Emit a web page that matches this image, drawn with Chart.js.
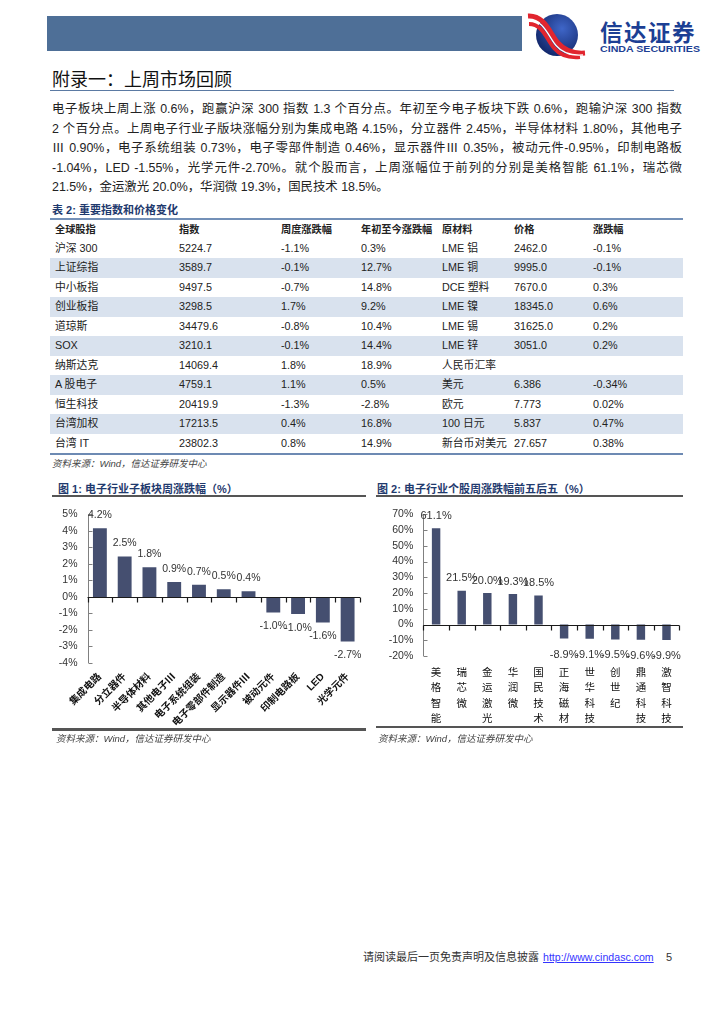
<!DOCTYPE html>
<html><head><meta charset="utf-8">
<script src="https://cdn.jsdelivr.net/npm/chart.js@4.4.1/dist/chart.umd.min.js"></script>
<style>
html,body{margin:0;padding:0;background:#fff;}
body{width:724px;height:1024px;position:relative;overflow:hidden;font-family:"Liberation Sans","Noto Sans CJK SC",sans-serif;color:#222;}
.abs{position:absolute;}
.pl{position:absolute;left:52px;width:630px;font-size:12.4px;line-height:16px;height:16px;text-align:justify;text-align-last:justify;color:#222;white-space:nowrap;}
.pl.last{text-align-last:left;}
.ttl{position:absolute;font-size:11px;font-weight:bold;color:#1f3a6e;line-height:14px;white-space:nowrap;}
.src{position:absolute;font-size:9.5px;font-style:italic;color:#444;line-height:12px;white-space:nowrap;}
.row{position:absolute;left:50px;width:633px;height:19.5px;}
.cell{position:absolute;top:0;line-height:19.5px;font-size:10.8px;color:#222;white-space:nowrap;}
.hcell{position:absolute;top:0;line-height:19px;font-size:10.2px;font-weight:bold;color:#222;white-space:nowrap;}
</style>
</head><body>

<div class="abs" style="left:47px;top:16px;width:475px;height:35px;background:#4e6f97;"></div>
<svg class="abs" style="left:524px;top:8px" width="190" height="56" viewBox="524 8 190 56">
 <defs>
  <radialGradient id="lg" cx="0.62" cy="0.35" r="0.75">
   <stop offset="0" stop-color="#3f66c8"/><stop offset="1" stop-color="#0e2263"/>
  </radialGradient>
 </defs>
 <circle cx="557" cy="35" r="21" fill="url(#lg)"/>
 <path d="M528 16 C545 15 550 34 558 43 C564 50 572 54 585 53" stroke="#e1252e" stroke-width="5" fill="none"/>
 <path d="M529 24 C543 24 547 40 554 48 C559 54 568 58 580 57" stroke="#e1252e" stroke-width="4" fill="none"/>
 <path d="M528.5 20 C544 19.5 548.5 37 556 45.5 C561.5 52 570 56 583 55" stroke="#ffffff" stroke-width="1.3" fill="none"/>
 <text x="600" y="41" font-size="22.5" font-weight="bold" fill="#1c3f94" font-family="Noto Sans CJK SC" letter-spacing="1.5">信达证券</text>
 <text x="600" y="51.5" font-size="9.6" font-weight="bold" fill="#1c3f94" font-family="Liberation Sans" textLength="100" lengthAdjust="spacingAndGlyphs">CINDA SECURITIES</text>
</svg>

<div class="abs" style="left:52px;top:66px;font-size:18px;line-height:24px;color:#111;font-family:'Noto Sans CJK SC';">附录一：上周市场回顾</div>
<div class="abs" style="left:50px;top:90px;width:624px;height:1.3px;background:#5b7aa3;"></div>

<div class="pl" style="top:101px">电子板块上周上涨 0.6%，跑赢沪深 300 指数 1.3 个百分点。年初至今电子板块下跌 0.6%，跑输沪深 300 指数</div>
<div class="pl" style="top:120.5px">2 个百分点。上周电子行业子版块涨幅分别为集成电路 4.15%，分立器件 2.45%，半导体材料 1.80%，其他电子</div>
<div class="pl" style="top:140px">Ⅲ 0.90%，电子系统组装 0.73%，电子零部件制造 0.46%，显示器件Ⅲ 0.35%，被动元件-0.95%，印制电路板</div>
<div class="pl" style="top:159.5px">-1.04%，LED -1.55%，光学元件-2.70%。就个股而言，上周涨幅位于前列的分别是美格智能 61.1%，瑞芯微</div>
<div class="pl last" style="top:179px">21.5%，金运激光 20.0%，华润微 19.3%，国民技术 18.5%。</div>

<div class="ttl" style="left:52px;top:203px;">表 2: 重要指数和价格变化</div>
<div class="abs" style="left:50px;top:218px;width:633px;height:2px;background:#7390b8;"></div>
<div id="tbl"></div>
<div class="abs" style="left:50px;top:452.5px;width:633px;height:2px;background:#6d8ab3;"></div>
<div class="src" style="left:52px;top:458px;">资料来源：Wind，信达证券研发中心</div>

<div class="ttl" style="left:58px;top:482px;">图 1: 电子行业子板块周涨跌幅（%）</div>
<div class="abs" style="left:52px;top:495px;width:314px;height:2px;background:#555;"></div>
<div class="abs" style="left:40px;top:498px;width:326px;height:232px;"><canvas id="c1"></canvas></div>
<div class="abs" style="left:52px;top:728px;width:314px;height:2.5px;background:#555;"></div>
<div class="src" style="left:56px;top:733px;">资料来源：Wind，信达证券研发中心</div>

<div class="ttl" style="left:377px;top:482px;">图 2: 电子行业个股周涨跌幅前五后五（%）</div>
<div class="abs" style="left:376px;top:495px;width:307px;height:2px;background:#555;"></div>
<div class="abs" style="left:370px;top:498px;width:315px;height:232px;"><canvas id="c2"></canvas></div>
<div class="abs" style="left:376px;top:725.5px;width:307px;height:2.5px;background:#555;"></div>
<div class="src" style="left:378px;top:733px;">资料来源：Wind，信达证券研发中心</div>

<div class="abs" style="left:363px;top:950px;font-size:11px;line-height:14px;color:#333;white-space:nowrap;">请阅读最后一页免责声明及信息披露</div>
<div class="abs" style="left:543px;top:950px;font-size:10.6px;line-height:14px;color:#3434ff;text-decoration:underline;white-space:nowrap;">http://www.cindasc.com</div>
<div class="abs" style="left:666px;top:950px;font-size:11px;line-height:14px;color:#333;">5</div>

<script>
// ---------- Table data ----------
const tableHeaders = ['全球股指','指数','周度涨跌幅','年初至今涨跌幅','原材料','价格','涨跌幅'];
const indexNames = ['沪深 300','上证综指','中小板指','创业板指','道琼斯','SOX','纳斯达克','A 股电子','恒生科技','台湾加权','台湾 IT'];
const indexValues = ['5224.7','3589.7','9497.5','3298.5','34479.6','3210.1','14069.4','4759.1','20419.9','17213.5','23802.3'];
const weekChg = ['-1.1%','-0.1%','-0.7%','1.7%','-0.8%','-0.1%','1.8%','1.1%','-1.3%','0.4%','0.8%'];
const ytdChg = ['0.3%','12.7%','14.8%','9.2%','10.4%','14.4%','18.9%','0.5%','-2.8%','16.8%','14.9%'];
const materials = ['LME 铝','LME 铜','DCE 塑料','LME 镍','LME 锡','LME 锌','人民币汇率','美元','欧元','100 日元','新台币对美元'];
const prices = ['2462.0','9995.0','7670.0','18345.0','31625.0','3051.0','','6.386','7.773','5.837','27.657'];
const priceChg = ['-0.1%','-0.1%','0.3%','0.6%','0.2%','0.2%','','-0.34%','0.02%','0.47%','0.38%'];

// ---------- Chart 1 data ----------
const sectorNames = ['集成电路','分立器件','半导体材料','其他电子Ⅲ','电子系统组装','电子零部件制造','显示器件Ⅲ','被动元件','印制电路板','LED','光学元件'];
const sectorChg = [4.15, 2.45, 1.80, 0.90, 0.73, 0.46, 0.35, -0.95, -1.04, -1.55, -2.70];
const sectorLabels = ['4.2%','2.5%','1.8%','0.9%','0.7%','0.5%','0.4%','-1.0%','-1.0%','-1.6%','-2.7%'];
const sectorTicks = {min:-4, max:5, step:1};

// ---------- Chart 2 data ----------
const stockNames = [['美','格','智','能'],['瑞','芯','微'],['金','运','激','光'],['华','润','微'],['国','民','技','术'],['正','海','磁','材'],['世','华','科','技'],['创','世','纪'],['鼎','通','科','技'],['激','智','科','技']];
const stockChg = [61.1, 21.5, 20.0, 19.3, 18.5, -8.9, -9.1, -9.5, -9.6, -9.9];
const stockLabels = ['61.1%','21.5%','20.0%','19.3%','18.5%','-8.9%','-9.1%','-9.5%','-9.6%','-9.9%'];
const stockTicks = {min:-20, max:70, step:10};

// ---------- Build table ----------
(function(){
  const tbl = document.getElementById('tbl');
  const colX = [5,129,231,311,392,464,543];
  const hdr = document.createElement('div');
  hdr.className='row'; hdr.style.top='220px'; hdr.style.height='19px';
  tableHeaders.forEach((h,i)=>{const c=document.createElement('div');c.className='hcell';c.style.left=colX[i]+'px';c.textContent=h;hdr.appendChild(c);});
  tbl.appendChild(hdr);
  const cols=[indexNames,indexValues,weekChg,ytdChg,materials,prices,priceChg];
  for(let r=0;r<indexNames.length;r++){
    const row=document.createElement('div');
    row.className='row';
    row.style.top=(238.5+19.5*r)+'px';
    if(r%2===1) row.style.background='#d9e2ee';
    cols.forEach((col,i)=>{const c=document.createElement('div');c.className='cell';c.style.left=colX[i]+'px';c.textContent=col[r];row.appendChild(c);});
    tbl.appendChild(row);
  }
})();

// ---------- Charts ----------
const FONT = '"Liberation Sans","Noto Sans CJK SC",sans-serif';
const axisPlugin = {
  id:'axisPlugin',
  afterDatasetsDraw(chart, args, o){
    const {ctx, chartArea:a, scales:{x,y}} = chart;
    ctx.save();
    const ax = Math.round(a.left)+0.5;
    ctx.strokeStyle='#808080'; ctx.lineWidth=1;
    ctx.beginPath();
    ctx.moveTo(ax, y.getPixelForValue(y.max)); ctx.lineTo(ax, y.getPixelForValue(y.min));
    y.ticks.forEach(t=>{const py=Math.round(y.getPixelForValue(t.value))+0.5; ctx.moveTo(ax,py); ctx.lineTo(ax+4,py);});
    ctx.stroke();
    const zy = Math.round(y.getPixelForValue(0))+0.5;
    ctx.strokeStyle='#1a1a1a'; ctx.lineWidth=1.2;
    ctx.beginPath();
    ctx.moveTo(a.left, zy); ctx.lineTo(a.right, zy);
    const n = chart.data.labels.length;
    for(let i=0;i<=n;i++){
      let px;
      if(i===0) px=a.left; else if(i===n) px=a.right;
      else px=(x.getPixelForValue(i-1)+x.getPixelForValue(i))/2;
      px=Math.round(px)+0.5;
      ctx.moveTo(px,zy); ctx.lineTo(px,zy+5);
    }
    ctx.stroke();
    const meta = chart.getDatasetMeta(0);
    const vals = chart.data.datasets[0].data;
    ctx.fillStyle='#333'; ctx.textAlign='center'; ctx.textBaseline='middle';
    ctx.font = o.fontSize+'px '+FONT;
    meta.data.forEach((bar,i)=>{
      const v=vals[i];
      const ty = v>=0 ? bar.y - o.up : bar.y + o.down;
      ctx.fillText(o.labels[i], bar.x, ty);
    });
    ctx.restore();
  }
};

function makeChart(id, labels, data, valueLabels, tk, cfg){
  return new Chart(document.getElementById(id), {
    type:'bar',
    data:{labels:labels, datasets:[{data:data, backgroundColor:'#454f70', borderWidth:0, barPercentage:cfg.barPct, categoryPercentage:1}]},
    options:{
      responsive:true, maintainAspectRatio:false, animation:false,
      layout:{padding:{top:cfg.top, right:cfg.right, left:0, bottom:0}},
      plugins:{legend:{display:false}, tooltip:{enabled:false},
        axisPlugin:{labels:valueLabels, up:cfg.up, down:cfg.down, fontSize:cfg.valFont}},
      scales:{
        x:{grid:{display:false, drawTicks:false}, border:{display:false},
           ticks:{autoSkip:false, maxRotation:cfg.rot, minRotation:cfg.rot, padding:cfg.xPad, color:'#111',
                  font:{family:FONT, size:cfg.xFont, weight:cfg.xWeight, lineHeight:cfg.xLH}},
           afterFit(s){ s.height = cfg.xH; }},
        y:{min:tk.min, max:tk.max, grid:{display:false, drawTicks:false}, border:{display:false},
           ticks:{autoSkip:false, stepSize:tk.step, padding:10, color:'#333', font:{family:FONT, size:10.5}, callback:v=>v+'%'},
           afterFit(s){ s.width = cfg.yW; }}
      }
    },
    plugins:[axisPlugin]
  });
}

makeChart('c1', sectorNames, sectorChg, sectorLabels, sectorTicks,
  {barPct:0.56, top:10.3, right:6, xH:67, yW:47.5, rot:45, xPad:8, xFont:10, xWeight:'bold', xLH:1.2, up:13, down:14, valFont:10.5});
makeChart('c2', stockNames, stockChg, stockLabels, stockTicks,
  {barPct:0.33, top:13.7, right:5.7, xH:74, yW:53.3, rot:0, xPad:9, xFont:10.5, xWeight:'normal', xLH:'15.5px', up:12.5, down:16, valFont:11});
</script>
</body></html>
